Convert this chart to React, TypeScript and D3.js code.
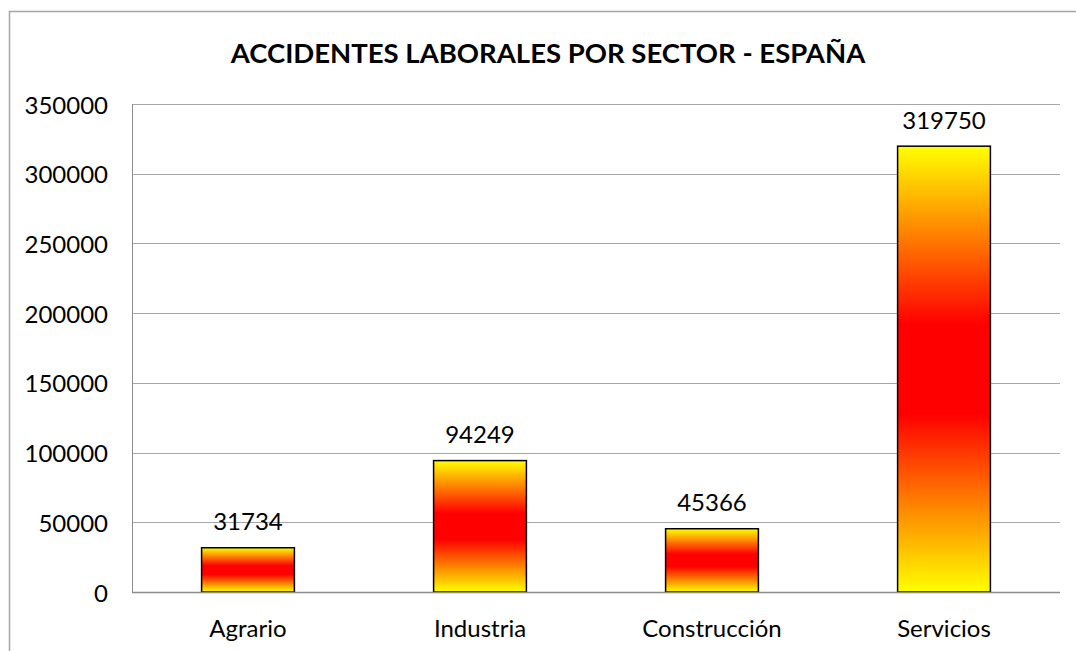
import React from "react";
import * as d3 from "d3";

const categories = ["Agrario", "Industria", "Construcción", "Servicios"];
const values = [31734, 94249, 45366, 319750];
const yTicks = [0, 50000, 100000, 150000, 200000, 250000, 300000, 350000];
const title = "ACCIDENTES LABORALES POR SECTOR - ESPAÑA";

const W = 1076;
const H = 651;
const plot = { left: 132, right: 1060, top: 104, bottom: 592 };
const FONT = "Lato, 'Open Sans', sans-serif";

export default function App() {
  const y = d3.scaleLinear().domain([0, 350000]).range([plot.bottom, plot.top]);
  const x = d3
    .scaleBand<string>()
    .domain(categories)
    .range([plot.left, plot.right])
    .paddingInner(0.6)
    .paddingOuter(0.3);

  return (
    <svg
      width={W}
      height={H}
      style={{ position: "absolute", left: 0, top: 0, background: "#fff" }}
    >
      <defs>
        <linearGradient id="fire" x1="0" y1="0" x2="0" y2="1">
          <stop offset="0" stopColor="#FFFF00" />
          <stop offset="0.4" stopColor="#FF0000" />
          <stop offset="0.6" stopColor="#FF0000" />
          <stop offset="1" stopColor="#FFFF00" />
        </linearGradient>
      </defs>
      <rect x={0} y={0} width={W} height={H} fill="#fff" />
      <rect
        x={9.5}
        y={11.5}
        width={1080}
        height={700}
        fill="#fff"
        stroke="#a6a6a6"
        strokeWidth={1.5}
      />
      <text
        x={548}
        y={52}
        textAnchor="middle"
        dominantBaseline="central"
        fontFamily={FONT}
        fontWeight="bold"
        fontSize={27.5}
        fill="#000"
      >
        {title}
      </text>
      {yTicks.map((t) => (
        <g key={t}>
          <line
            x1={plot.left}
            x2={plot.right}
            y1={Math.round(y(t)) + 0.5}
            y2={Math.round(y(t)) + 0.5}
            stroke="#a6a6a6"
            strokeWidth={1}
          />
          <text
            x={108}
            y={y(t)}
            textAnchor="end"
            dominantBaseline="central"
            fontFamily={FONT}
            fontSize={24}
            fill="#000"
          >
            {t}
          </text>
        </g>
      ))}
      <line
        x1={plot.left + 0.5}
        x2={plot.left + 0.5}
        y1={plot.top}
        y2={plot.bottom}
        stroke="#8c8c8c"
        strokeWidth={1}
      />
      {categories.map((c, i) => {
        const bx = x(c)!;
        const by = y(values[i]);
        return (
          <g key={c}>
            <rect
              x={bx}
              y={by}
              width={x.bandwidth()}
              height={plot.bottom - by}
              fill="url(#fire)"
              stroke="#000"
              strokeWidth={1.5}
            />
            <text
              x={bx + x.bandwidth() / 2}
              y={by - 27}
              textAnchor="middle"
              dominantBaseline="central"
              fontFamily={FONT}
              fontSize={24}
              fill="#000"
            >
              {values[i]}
            </text>
            <text
              x={bx + x.bandwidth() / 2}
              y={627}
              textAnchor="middle"
              dominantBaseline="central"
              fontFamily={FONT}
              fontSize={24}
              fill="#000"
            >
              {c}
            </text>
          </g>
        );
      })}
      <line
        x1={plot.left}
        x2={plot.right}
        y1={plot.bottom + 0.5}
        y2={plot.bottom + 0.5}
        stroke="#8c8c8c"
        strokeWidth={1.5}
      />
    </svg>
  );
}
